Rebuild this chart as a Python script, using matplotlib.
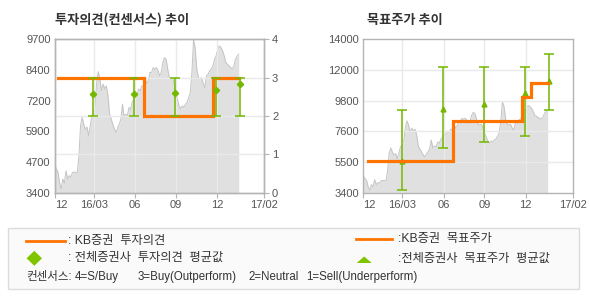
import numpy as np
import matplotlib
matplotlib.use("Agg")
import matplotlib.pyplot as plt
from matplotlib.patches import Rectangle, Polygon
from matplotlib.lines import Line2D

# ---------------- data ----------------
x_tick_labels = ["12", "16/03", "06", "09", "12", "17/02"]
x_tick_pos = [0, 18.6, 38.2, 57.7, 77.4, 100]   # axis position (% of width)

price = [4580, 4370, 4250, 3820, 3550, 3960, 3800, 4300, 3960, 4100, 4050, 4230,
         4250, 4230, 4230, 4920, 6150, 6490, 6200, 6010, 6100, 5740, 6150, 6560,
         6700, 6970, 7930, 8370, 8070, 7590, 7860, 7660, 7790, 7380, 6630, 6420,
         6220, 6010, 5870, 6080, 6220, 6420, 7040, 6490, 6630, 6560, 6900, 6830,
         7110, 7240, 7520, 7450, 7660, 7590, 7790, 7790,
         8130, 7880, 8000, 8340, 8340, 8540, 8470, 8540, 8410, 8200, 8340, 8750,
         8950, 8880, 8480, 8130, 8070, 8130, 7880, 7520, 7250, 6970, 6840, 6970,
         6900, 7040, 7110, 7310, 7520, 8340, 9680, 9360, 8480, 8130, 8070, 8130,
         7880, 7720, 8200, 8270, 8410, 8480, 8610, 8880, 9020, 9300, 9430, 9360,
         9230, 9020, 8750, 8680, 8610, 8540, 8480, 8610, 8880, 9020, 9090]
price_end = 87.8

# KB opinion (steps)
kb_op_x = [1.6, 42.7, 75.7, 87.9]
kb_op = [3, 2, 3, 3]
# consensus opinion
cons_x = [18.4, 38.0, 57.5, 77.1, 88.5]
cons_mean = [2.57, 2.57, 2.60, 2.68, 2.83]
cons_low = [2, 2, 2, 2, 2]
cons_high = [3, 3, 3, 3, 3]

# KB target price (steps)
kb_tp_x = [2.1, 42.9, 75.7, 80.0, 87.8]
kb_tp = [5600, 8350, 10000, 11000, 11000]
# consensus target price
tp_x = [18.6, 38.1, 57.6, 77.1, 88.5]
tp_mean = [5600, 9200, 9500, 10300, 11100]
tp_low = [3600, 6500, 6900, 7300, 9100]
tp_high = [9100, 12100, 12100, 12100, 13000]

left_y_labels = ["3400", "4700", "5900", "7200", "8400", "9700"]
right_y_labels = ["3400", "5500", "7600", "9800", "12000", "14000"]
op_labels = ["0", "1", "2", "3", "4"]

legend_consensus = ["컨센서스:", "4=S/Buy", "3=Buy(Outperform)", "2=Neutral", "1=Sell(Underperform)"]

# ---------------- style ----------------
ORANGE = "#ff7300"
GREEN = "#74b800"
FILL = "#e0e0e0"
EDGE = "#c4c4c4"
GRID = "#eaeaea"
SPINE = "#b4b4b4"
TXT = "#555555"
KFONT = ["Liberation Sans", "Noto Sans CJK KR"]

plt.rcParams['font.family'] = KFONT

fig = plt.figure(figsize=(5.9, 3.0), dpi=100)
fig.patch.set_facecolor("white")

W, H = 590, 300
def axrect(x0, x1, top, bottom):
    return [x0 / W, 1 - bottom / H, (x1 - x0) / W, (bottom - top) / H]

px = np.linspace(0, price_end, len(price))


def style_axes(ax):
    for s in ax.spines.values():
        s.set_color(SPINE)
        s.set_linewidth(1)
    ax.set_xlim(0, 100)
    ax.set_xticks(x_tick_pos)
    ax.set_xticklabels(x_tick_labels, fontsize=8, color=TXT, family="Liberation Sans")
    ax.get_xticklabels()[0].set_ha('left')
    ax.tick_params(axis='x', length=3.5, color=SPINE, pad=2)


# ---------- left chart ----------
ax1 = fig.add_axes(axrect(54.7, 264.3, 39.3, 192.7))
style_axes(ax1)
ymin, ymax = 3400, 9700
ax1.set_ylim(ymin, ymax)
ax1.set_yticks(np.linspace(ymin, ymax, len(left_y_labels)))
ax1.set_yticklabels(left_y_labels, fontsize=8, color=TXT, family="Liberation Sans")
ax1.tick_params(axis='y', length=0, pad=3)
ax1.fill_between(px, price, ymin, color=FILL, lw=0, zorder=1)
ax1.plot(px, price, color=EDGE, lw=0.7, zorder=2)

ax2 = ax1.twinx()
for s in ax2.spines.values():
    s.set_color(SPINE)
    s.set_linewidth(1)
ax2.set_ylim(0, 4)
ax2.set_yticks(range(5))
ax2.set_yticklabels(op_labels, fontsize=8, color=TXT, family="Liberation Sans")
ax2.tick_params(axis='y', length=3.5, color=SPINE, pad=2)
for v in [1, 2, 3]:
    ax2.axhline(v, color=GRID, lw=1, zorder=1)
for v in x_tick_pos[1:-1]:
    ax2.axvline(v, color=GRID, lw=1, zorder=1)
ax2.plot(kb_op_x, kb_op, drawstyle='steps-post', color=ORANGE, lw=2.3, zorder=3,
         solid_joinstyle='miter')
cm = np.array(cons_mean)
ax2.errorbar(cons_x, cm, yerr=[cm - np.array(cons_low), np.array(cons_high) - cm],
             fmt='none', ecolor=GREEN, elinewidth=1.1, capsize=3.3, capthick=1.1, zorder=4)
ax2.plot(cons_x, cm, 'D', color=GREEN, ms=3.2, zorder=5)

# ---------- right chart ----------
ax3 = fig.add_axes(axrect(363.3, 573.3, 39.3, 192.7))
style_axes(ax3)
rmin, rmax = 3400, 14000
ax3.set_ylim(rmin, rmax)
rt = np.linspace(rmin, rmax, len(right_y_labels))
ax3.set_yticks(rt)
ax3.set_yticklabels(right_y_labels, fontsize=8, color=TXT, family="Liberation Sans")
ax3.tick_params(axis='y', length=0, pad=3)
ax3.fill_between(px, price, rmin, color=FILL, lw=0, zorder=1)
ax3.plot(px, price, color=EDGE, lw=0.7, zorder=2)
for v in rt[1:-1]:
    ax3.axhline(v, color=GRID, lw=1, zorder=2.5)
for v in x_tick_pos[1:-1]:
    ax3.axvline(v, color=GRID, lw=1, zorder=2.5)
tm = np.array(tp_mean)
ax3.errorbar(tp_x, tm, yerr=[tm - np.array(tp_low), np.array(tp_high) - tm],
             fmt='none', ecolor=GREEN, elinewidth=1.1, capsize=3.3, capthick=1.1, zorder=4)
ax3.plot(tp_x, tm, '^', color=GREEN, ms=3.5, zorder=4.5)
ax3.plot(kb_tp_x, kb_tp, drawstyle='steps-post', color=ORANGE, lw=2.3, zorder=5,
         solid_joinstyle='miter')

# titles
fig.text(55 / W, 1 - 20 / H, "투자의견(컨센서스) 추이", fontsize=9.5, fontweight='bold',
         color="#333333", va='center', ha='left', family="Noto Sans CJK KR")
fig.text(366.7 / W, 1 - 20 / H, "목표주가 추이", fontsize=9.5, fontweight='bold',
         color="#333333", va='center', ha='left', family="Noto Sans CJK KR")

# ---------- legend box ----------
lg = fig.add_axes([0, 0, 1, 1], zorder=-1)
lg.set_xlim(0, W)
lg.set_ylim(H, 0)
lg.axis('off')
lg.add_patch(Rectangle((8.3, 228.3), 571, 60.7, facecolor="#fafafa", edgecolor="#dcdcdc", lw=1))
LT = "#333333"
FS = 8.8
lg.add_line(Line2D([26, 65], [240.7, 240.7], color=ORANGE, lw=2))
lg.text(68.3, 240.7, ": KB증권  투자의견", fontsize=FS, color=LT, va='center')
lg.add_patch(Polygon([[34.3, 250.8], [42, 258.3], [34.3, 265.8], [26.6, 258.3]],
                     closed=True, facecolor="#80c400", edgecolor='none'))
lg.text(68.3, 258.3, ": 전체증권사  투자의견  평균값", fontsize=FS, color=LT, va='center')
cons_pos = [26, 75, 138, 248, 306]
for xpos, t in zip(cons_pos, legend_consensus):
    lg.text(xpos, 276.7, t, fontsize=8.3, color=LT, va='center')
lg.add_line(Line2D([356, 391.7], [239, 239], color=ORANGE, lw=2))
lg.text(398.3, 239, ":KB증권  목표주가", fontsize=FS, color=LT, va='center')
lg.add_patch(Polygon([[356.7, 263], [364.2, 256.5], [371.7, 263]], closed=True,
                     facecolor="#80c400", edgecolor='none'))
lg.text(398.3, 259.3, ":전체증권사  목표주가  평균값", fontsize=FS, color=LT, va='center')

fig.savefig("out.png", dpi=100)
